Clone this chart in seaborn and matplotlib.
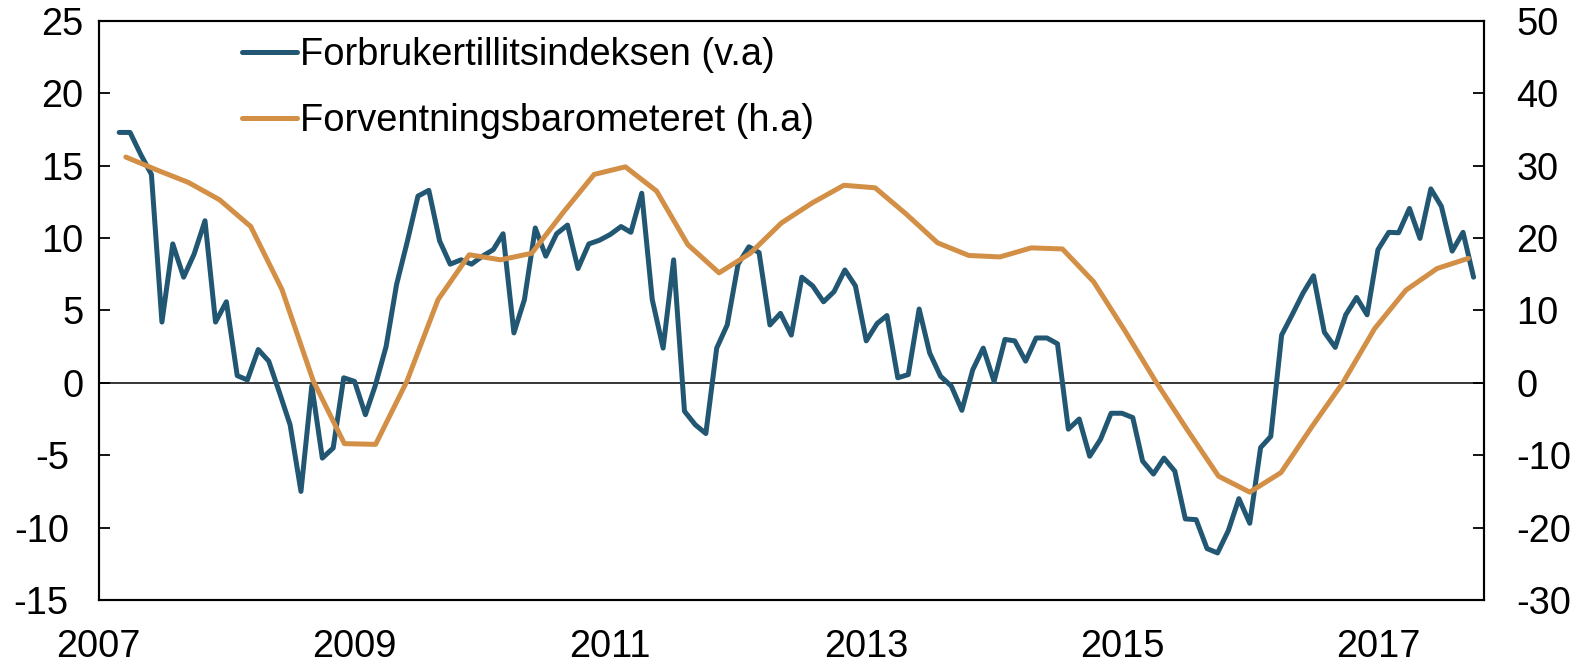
import pandas as pd
import matplotlib
matplotlib.use('Agg')
import matplotlib.pyplot as plt
import matplotlib.transforms as mtransforms
import seaborn as sns

# -----------------------------------------
# Data lest av figuren
# -----------------------------------------
# Forbrukertillitsindeksen, månedlig mars 2007 - okt 2017 (venstre akse)
forbruker_dates = pd.date_range("2007-03-01", "2017-10-01", freq="MS")
forbruker = [
    17.3, 17.3, 15.8, 14.4, 4.2, 9.6, 7.3, 8.9, 11.2, 4.2,                # 2007
    5.6, 0.5, 0.2, 2.3, 1.5, -0.7, -2.9, -7.5, -0.2, -5.2, -4.5, 0.35,     # 2008
    0.1, -2.2, -0.2, 2.5, 6.8, 9.8, 12.9, 13.3, 9.8, 8.2, 8.5, 8.2,        # 2009
    8.75, 9.2, 10.3, 3.45, 5.75, 10.7, 8.75, 10.3, 10.9, 7.9, 9.6, 9.85,   # 2010
    10.25, 10.8, 10.4, 13.1, 5.75, 2.4, 8.5, -1.96, -2.9, -3.5, 2.4, 4.0,  # 2011
    8.2, 9.4, 9.0, 4.0, 4.8, 3.3, 7.3, 6.7, 5.6, 6.3, 7.8, 6.7,            # 2012
    2.9, 4.1, 4.65, 0.35, 0.57, 5.1, 2.07, 0.46, -0.23, -1.9, 0.9, 2.4,    # 2013
    0.1, 3.0, 2.9, 1.5, 3.1, 3.1, 2.7, -3.2, -2.5, -5.07, -3.9, -2.1,      # 2014
    -2.1, -2.4, -5.4, -6.3, -5.2, -6.1, -9.4, -9.45, -11.45, -11.75, -10.2, -8.0,  # 2015
    -9.7, -4.47, -3.7, 3.3, 4.7, 6.2, 7.4, 3.5, 2.45, 4.7, 5.9, 4.7,       # 2016
    9.2, 10.4, 10.37, 12.05, 9.98, 13.4, 12.2, 9.1, 10.4, 7.3,             # 2017
]

# Forventningsbarometeret, kvartalsvise målinger (høyre akse)
forventning_dates = pd.date_range("2007-03-20", "2017-09-16", periods=44)
forventning = [
    31.2, 29.4, 27.7, 25.3, 21.6, 12.9, 0.3, -8.4, -8.5, 0.2, 11.5,
    17.7, 17.0, 17.9, 23.5, 28.8, 29.85, 26.5, 19.1, 15.2, 17.9, 22.1,
    24.9, 27.3, 26.95, 23.3, 19.35, 17.6, 17.4, 18.65, 18.5, 13.96,
    7.2, 0.1, -6.5, -12.9, -15.1, -12.4, -6.0, 0.14, 7.5, 12.8, 15.8, 17.2,
]

left_ticks = [-15, -10, -5, 0, 5, 10, 15, 20, 25]
right_ticks = [-30, -20, -10, 0, 10, 20, 30, 40, 50]
year_ticks = [2007, 2009, 2011, 2013, 2015, 2017]

label_blue = "Forbrukertillitsindeksen (v.a)"
label_orange = "Forventningsbarometeret (h.a)"

blue = "#225773"
orange = "#d28f45"

df_blue = pd.DataFrame({"dato": forbruker_dates, "verdi": forbruker})
df_orange = pd.DataFrame({"dato": forventning_dates, "verdi": forventning})

# -----------------------------------------
# Stil
# -----------------------------------------
sns.set_theme(style="white")
plt.rcParams['font.family'] = ['Liberation Sans', 'DejaVu Sans']
plt.rcParams['axes.unicode_minus'] = False
plt.rcParams['text.color'] = 'black'

fig = plt.figure(figsize=(15.79, 6.62), dpi=100)
ax = fig.add_axes([0.0624, 0.0937, 0.8777, 0.8746])
ax2 = ax.twinx()

sns.lineplot(data=df_blue, x="dato", y="verdi", ax=ax, color=blue,
             linewidth=3.6, label=label_blue, legend=False)
sns.lineplot(data=df_orange, x="dato", y="verdi", ax=ax2, color=orange,
             linewidth=3.6, label=label_orange, legend=False)

ax.axhline(0, color="black", linewidth=1.1, zorder=1)

ax.set_xlim(pd.Timestamp("2007-01-01"), pd.Timestamp("2017-11-01"))
ax.set_ylim(-15, 25)
ax2.set_ylim(-30, 50)

ax.set_yticks(left_ticks)
ax.set_yticklabels([str(v) for v in left_ticks])
ax2.set_yticks(right_ticks)
ax2.set_yticklabels([str(v) for v in right_ticks])
ax.set_xticks([pd.Timestamp(f"{y}-01-01") for y in year_ticks])
ax.set_xticklabels([str(y) for y in year_ticks])

ax.set_xlabel("")
ax.set_ylabel("")
ax2.set_ylabel("")

ax.tick_params(axis="y", direction="in", length=8, width=1.3, labelsize=27.4,
               pad=11, colors="black")
ax2.tick_params(axis="y", direction="in", length=8, width=1.3, labelsize=27.4,
                pad=23, colors="black")
ax.tick_params(axis="x", direction="in", length=8, width=1.3, labelsize=27.4,
               pad=21, colors="black")

# negative tall på venstre akse står litt lenger til venstre i originalen
shift = mtransforms.ScaledTranslation(-0.145, 0, fig.dpi_scale_trans)
for tick, v in zip(ax.yaxis.get_major_ticks(), left_ticks):
    if v < 0:
        tick.label1.set_transform(tick.label1.get_transform() + shift)

for a in (ax, ax2):
    for sp in a.spines.values():
        sp.set_color("black")
        sp.set_linewidth(1.5)
    a.grid(False)

h1, l1 = ax.get_legend_handles_labels()
h2, l2 = ax2.get_legend_handles_labels()
leg = ax2.legend(h1 + h2, l1 + l2, loc="center left",
                 bbox_to_anchor=(0.1033, 0.884), frameon=False,
                 fontsize=27.4, handlelength=1.45, handletextpad=0.08,
                 labelspacing=0.8, borderpad=0, borderaxespad=0,
                 labelcolor="black")

plt.savefig("out.png", dpi=100)
print("saved out.png")
